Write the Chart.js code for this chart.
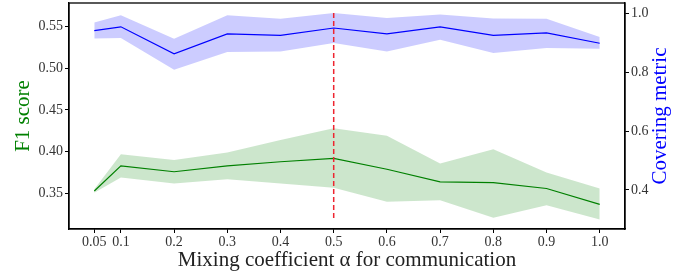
<!DOCTYPE html>
<html>

<head>
  <title>Mixing coefficient</title>
  <script src="https://cdn.jsdelivr.net/npm/chart.js"></script>
  <style>
    body { margin: 0; background: #fff; }
  </style>
</head>

<body>
  <canvas id="myChart" width="689" height="273"></canvas>
  <script>
    // alpha values (x)
    var alphas = [0.05, 0.1, 0.2, 0.3, 0.4, 0.5, 0.6, 0.7, 0.8, 0.9, 1.0];
    var xTickLabels = ['0.05', '0.1', '0.2', '0.3', '0.4', '0.5', '0.6', '0.7', '0.8', '0.9', '1.0'];

    // F1 score (left axis)
    var f1Mean = [0.353, 0.383, 0.376, 0.383, 0.388, 0.392, 0.379, 0.364, 0.363, 0.356, 0.337];
    var f1Upper = [0.355, 0.397, 0.390, 0.399, 0.414, 0.428, 0.419, 0.386, 0.403, 0.375, 0.356];
    var f1Lower = [0.351, 0.369, 0.362, 0.367, 0.362, 0.357, 0.340, 0.342, 0.321, 0.336, 0.319];

    // Covering metric (right axis)
    var covMean = [0.942, 0.955, 0.863, 0.931, 0.926, 0.951, 0.931, 0.955, 0.926, 0.934, 0.899];
    var covUpper = [0.970, 0.994, 0.914, 0.994, 0.982, 1.002, 0.985, 0.997, 0.983, 0.982, 0.920];
    var covLower = [0.915, 0.917, 0.809, 0.869, 0.871, 0.900, 0.871, 0.911, 0.866, 0.883, 0.880];

    var leftTicks = [0.35, 0.40, 0.45, 0.50, 0.55];
    var rightTicks = [0.4, 0.6, 0.8, 1.0];

    // chosen alpha marker
    var cutoffAlpha = 0.5;
    var cutoffSpan = [0.566, 0.319];

    function pts(ys) {
      return alphas.map(function (a, i) { return { x: a, y: ys[i] }; });
    }

    var serif = "'Liberation Serif', 'DejaVu Serif', serif";

    // box round the plot + right axis title reading upwards (like matplotlib)
    var frame = {
      id: 'frame',
      afterDraw: function (chart) {
        var a = chart.chartArea, c = chart.ctx;
        c.save();
        c.strokeStyle = '#000';
        c.lineWidth = 1.3;
        c.strokeRect(a.left, a.top, a.right - a.left, a.bottom - a.top);
        c.translate(660, (a.top + a.bottom) / 2);
        c.rotate(-Math.PI / 2);
        c.fillStyle = '#0000ff';
        c.font = '21px ' + serif;
        c.textAlign = 'center';
        c.textBaseline = 'middle';
        c.fillText('Covering metric', 0, 0);
        c.restore();
      }
    };

    function fitY(w) {
      return function (axis) {
        axis.width = w;
        axis.paddingTop = 0;
        axis.paddingBottom = 0;
      };
    }

    var ctx = document.getElementById('myChart').getContext('2d');
    var myChart = new Chart(ctx, {
      type: 'line',
      data: {
        datasets: [{
          data: [{ x: cutoffAlpha, y: cutoffSpan[0] }, { x: cutoffAlpha, y: cutoffSpan[1] }],
          yAxisID: 'y',
          borderColor: '#ee2530',
          borderWidth: 1.5,
          borderDash: [5, 3],
          pointRadius: 0,
          fill: false
        }, {
          data: pts(covMean),
          yAxisID: 'y1',
          borderColor: '#0000ff',
          borderWidth: 1.2,
          pointRadius: 0,
          fill: false
        }, {
          data: pts(covUpper),
          yAxisID: 'y1',
          borderWidth: 0,
          pointRadius: 0,
          fill: false
        }, {
          data: pts(covLower),
          yAxisID: 'y1',
          borderWidth: 0,
          pointRadius: 0,
          backgroundColor: 'rgba(0,0,255,0.2)',
          fill: '-1'
        }, {
          data: pts(f1Mean),
          yAxisID: 'y',
          borderColor: '#008000',
          borderWidth: 1.2,
          pointRadius: 0,
          fill: false
        }, {
          data: pts(f1Upper),
          yAxisID: 'y',
          borderWidth: 0,
          pointRadius: 0,
          fill: false
        }, {
          data: pts(f1Lower),
          yAxisID: 'y',
          borderWidth: 0,
          pointRadius: 0,
          backgroundColor: 'rgba(0,128,0,0.2)',
          fill: '-1'
        }]
      },
      options: {
        responsive: false,
        animation: false,
        layout: { padding: { top: 3 } },
        plugins: { legend: { display: false }, tooltip: { enabled: false } },
        scales: {
          x: {
            type: 'linear',
            min: 0.0025,
            max: 1.0475,
            afterBuildTicks: function (axis) {
              axis.ticks = alphas.map(function (v) { return { value: v }; });
            },
            afterFit: function (axis) {
              axis.height = 44;
              axis.paddingLeft = 0;
              axis.paddingRight = 0;
            },
            ticks: {
              autoSkip: false,
              maxRotation: 0,
              padding: 1,
              color: '#333',
              font: { family: serif, size: 14 },
              callback: function (v) { return xTickLabels[alphas.indexOf(v)]; }
            },
            grid: { drawOnChartArea: false, tickLength: 4, color: '#000' },
            border: { color: '#000', width: 1.3 },
            title: {
              display: true,
              text: 'Mixing coefficient α for communication',
              color: '#222',
              font: { family: serif, size: 21 },
              padding: { top: 0, bottom: 0 }
            }
          },
          y: {
            position: 'left',
            min: 0.3075,
            max: 0.578,
            afterBuildTicks: function (axis) {
              axis.ticks = leftTicks.map(function (v) { return { value: v }; });
            },
            afterFit: fitY(69),
            ticks: {
              padding: 2,
              color: '#333',
              font: { family: serif, size: 14 },
              callback: function (v) { return v.toFixed(2); }
            },
            grid: { drawOnChartArea: false, tickLength: 4, color: '#000' },
            border: { color: '#000', width: 1.3 },
            title: {
              display: true,
              text: 'F1 score',
              color: '#008000',
              font: { family: serif, size: 21 },
              padding: { top: 11, bottom: 4 }
            }
          },
          y1: {
            position: 'right',
            min: 0.267,
            max: 1.036,
            afterBuildTicks: function (axis) {
              axis.ticks = rightTicks.map(function (v) { return { value: v }; });
            },
            afterFit: fitY(64),
            ticks: {
              padding: 2,
              color: '#333',
              font: { family: serif, size: 14 },
              callback: function (v) { return v.toFixed(1); }
            },
            grid: { drawOnChartArea: false, tickLength: 4, color: '#000' },
            border: { color: '#000', width: 1.3 },
            title: { display: false }
          }
        }
      },
      plugins: [frame]
    });
  </script>
</body>

</html>
